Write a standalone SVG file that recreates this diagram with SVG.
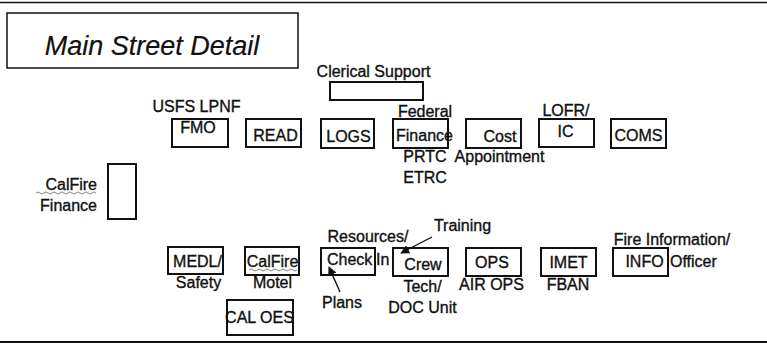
<svg xmlns="http://www.w3.org/2000/svg" width="767" height="345" viewBox="0 0 767 345">
<style>
  text { font-family: "Liberation Sans", Arial, sans-serif; font-size: 16px; fill: #111; stroke: #111; stroke-width: 0.35; }
  .c { text-anchor: middle; }
  .e { text-anchor: end; }
  .box { fill: #fff; stroke: #111; stroke-width: 2; }
  .title { font-size: 27px; font-style: italic; stroke-width: 0.2; }
  .sq { fill: none; stroke: #777; stroke-width: 0.9; }
  .conn { stroke: #111; stroke-width: 1.4; fill: none; }
</style>
<defs>
  <marker id="arr" viewBox="0 0 10 10" refX="9" refY="5" markerWidth="9" markerHeight="9" markerUnits="userSpaceOnUse" orient="auto">
    <path d="M0,0 L10,5 L0,10 z" fill="#111"/>
  </marker>
</defs>
<rect width="767" height="345" fill="#fff"/>
<line x1="0" y1="2.5" x2="767" y2="2.5" stroke="#111" stroke-width="1.5"/>
<line x1="0" y1="342" x2="767" y2="342" stroke="#111" stroke-width="2"/>

<g id="title">
  <rect x="7" y="13" width="291" height="55" fill="#fff" stroke="#111" stroke-width="1.5"/>
  <text class="c title" x="152" y="55">Main Street Detail</text>
</g>

<g id="clerical">
  <text class="c" x="373.5" y="77">Clerical Support</text>
  <rect class="box" x="330" y="82" width="93" height="18"/>
</g>

<g id="fmo">
  <text class="c" x="196.5" y="112">USFS LPNF</text>
  <rect class="box" x="172" y="119" width="56" height="28"/>
  <text class="c" x="198" y="133">FMO</text>
</g>

<g id="read">
  <rect class="box" x="246" y="119" width="55" height="28"/>
  <text class="c" x="275.5" y="141">READ</text>
</g>

<g id="logs">
  <rect class="box" x="321" y="119" width="53" height="29"/>
  <text class="c" x="348.5" y="142">LOGS</text>
</g>

<g id="federal-finance">
  <rect class="box" x="393" y="119" width="55" height="29"/>
  <text class="c" x="425" y="117">Federal</text>
  <text class="c" x="424.5" y="141">Finance</text>
  <text class="c" x="425" y="162">PRTC</text>
  <text class="c" x="425" y="183">ETRC</text>
</g>

<g id="cost">
  <rect class="box" x="466" y="119" width="55" height="29"/>
  <text class="c" x="500" y="142">Cost</text>
  <text class="c" x="499.5" y="162">Appointment</text>
</g>

<g id="lofr-ic">
  <rect class="box" x="539" y="119" width="55" height="28"/>
  <text class="c" x="566" y="116">LOFR/</text>
  <text class="c" x="565.5" y="137">IC</text>
</g>

<g id="coms">
  <rect class="box" x="611" y="119" width="55" height="29"/>
  <text class="c" x="638.5" y="141">COMS</text>
</g>

<g id="calfire-finance">
  <text class="e" x="97" y="190">CalFire</text>
  <path class="sq" d="M36,193 q2,-2 4,0 t4,0 t4,0 t4,0 t4,0 t4,0 t4,0 t4,0 t4,0 t4,0 t4,0 t4,0 t4,0 t4,0 t4,0"/>
  <text class="e" x="97" y="211">Finance</text>
  <rect class="box" x="108" y="164" width="28" height="55"/>
</g>

<g id="medl">
  <rect class="box" x="168" y="247" width="55" height="27"/>
  <text class="c" x="197.5" y="267">MEDL/</text>
  <text class="c" x="198.5" y="288">Safety</text>
</g>

<g id="calfire-motel">
  <rect class="box" x="245" y="247" width="54" height="28"/>
  <text class="c" x="272.5" y="267">CalFire</text>
  <path class="sq" d="M249,270 q2,-2 4,0 t4,0 t4,0 t4,0 t4,0 t4,0 t4,0 t4,0 t4,0 t4,0 t4,0 t4,0"/>
  <text class="c" x="272.5" y="288">Motel</text>
</g>

<g id="cal-oes">
  <rect class="box" x="227" y="300" width="66" height="35"/>
  <text class="c" x="259.5" y="323">CAL OES</text>
</g>

<g id="check-in">
  <text class="c" x="368" y="242">Resources/</text>
  <rect class="box" x="321" y="248" width="54" height="27"/>
  <text x="327" y="265">Check</text>
  <text x="376" y="265">In</text>
</g>

<g id="plans">
  <text class="c" x="342" y="308">Plans</text>
</g>

<g id="crew">
  <rect class="box" x="393" y="248" width="55" height="28"/>
  <text class="c" x="423" y="270">Crew</text>
  <text class="c" x="422.5" y="292">Tech/</text>
  <text class="c" x="422.5" y="313">DOC Unit</text>
</g>

<g id="training">
  <text class="c" x="462.5" y="231">Training</text>
</g>

<g id="ops">
  <rect class="box" x="466" y="248" width="55" height="28"/>
  <text class="c" x="492" y="268">OPS</text>
  <text class="c" x="491.5" y="290">AIR OPS</text>
</g>

<g id="imet">
  <rect class="box" x="541" y="248" width="55" height="28"/>
  <text class="c" x="568.5" y="268">IMET</text>
  <text class="c" x="568" y="290">FBAN</text>
</g>

<g id="info">
  <text class="c" x="672" y="245">Fire Information/</text>
  <rect class="box" x="613" y="248" width="55" height="28"/>
  <text class="c" x="644.5" y="267">INFO</text>
  <text x="670" y="267">Officer</text>
</g>

<g id="connectors">
  <line class="conn" x1="340" y1="292" x2="329" y2="267" marker-end="url(#arr)"/>
  <line class="conn" x1="432" y1="237" x2="401" y2="253" marker-end="url(#arr)"/>
</g>
</svg>
